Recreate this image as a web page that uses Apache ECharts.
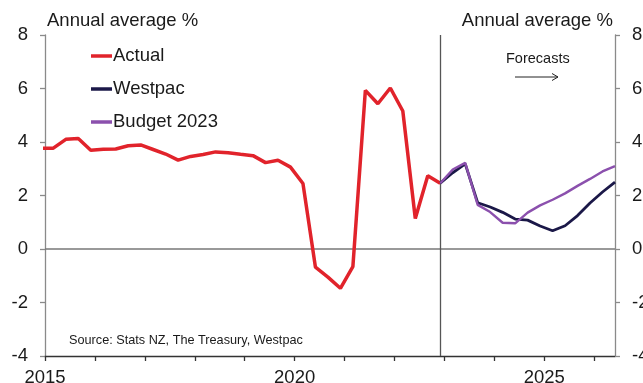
<!DOCTYPE html>
<html><head><meta charset="utf-8">
<script src="https://cdn.jsdelivr.net/npm/echarts@6/dist/echarts.min.js"></script>
<style>html,body{margin:0;padding:0;background:#fff}#c{width:643px;height:383px}</style>
</head><body><div id="c"></div>
<script>
// Quarter labels (year-month) and values, annual average % change
const actualQuarters = ['2014-12','2015-03','2015-06','2015-09','2015-12','2016-03','2016-06','2016-09','2016-12',
  '2017-03','2017-06','2017-09','2017-12','2018-03','2018-06','2018-09','2018-12','2019-03','2019-06','2019-09','2019-12',
  '2020-03','2020-06','2020-09','2020-12','2021-03','2021-06','2021-09','2021-12','2022-03','2022-06','2022-09','2022-12'];
const actualValues = [3.76,3.77,4.10,4.13,3.69,3.73,3.74,3.86,3.89,
  3.72,3.55,3.32,3.46,3.53,3.63,3.60,3.54,3.49,3.23,3.32,3.06,
  2.45,-0.68,-1.05,-1.47,-0.66,5.93,5.43,6.02,5.16,1.14,2.74,2.46];
const forecastQuarters = ['2022-12','2023-03','2023-06','2023-09','2023-12','2024-03','2024-06','2024-09','2024-12',
  '2025-03','2025-06','2025-09','2025-12','2026-03','2026-06'];
const westpacValues = [2.46,2.85,3.18,1.73,1.57,1.37,1.12,1.08,0.86,0.68,0.87,1.25,1.72,2.13,2.50];
const budgetValues  = [2.46,2.97,3.22,1.65,1.38,0.98,0.96,1.36,1.63,1.84,2.08,2.36,2.62,2.90,3.10];
const seriesNames = ['Actual','Westpac','Budget 2023'];
const xTickYears = [2015,2016,2017,2018,2019,2020,2021,2022,2023,2024,2025,2026];
const xLabelYears = [2015,2020,2025];
const yMin = -4, yMax = 8, yStep = 2;
const forecastStart = '2022-12';
const axisEnd = '2026-06';

function toYear(q){const p=q.split('-').map(Number);return p[0]+(p[1]-1)/12;}
function pairs(qs, vs){return qs.map((q,i)=>[toYear(q), vs[i]]);}

const FONT = '"Liberation Sans", Arial, sans-serif';
const TXT = '#1a1a1a';
const chart = echarts.init(document.getElementById('c'), null, {renderer:'canvas'});

function yAxisCfg(pos){
  return {type:'value', position:pos, min:yMin, max:yMax, interval:yStep,
    axisLine:{show:true, lineStyle:{color:'#8a8a8a', width:1.3}},
    axisTick:{show:true, inside:false, length:5, lineStyle:{color:'#8a8a8a', width:1.3}},
    axisLabel:{margin:17, fontSize:18.5, fontFamily:FONT, color:TXT},
    splitLine:{show:false}};
}

chart.setOption({
  animation:false,
  backgroundColor:'#fff',
  grid:{left:45, right:28, top:35, bottom:27, containLabel:false, outerBoundsMode:'none'},
  xAxis:{type:'value', min:2015, max:toYear(axisEnd),
    axisLine:{show:true, onZero:false, lineStyle:{color:'#333', width:1.3}},
    axisTick:{show:true, length:5, customValues:xTickYears, lineStyle:{color:'#333', width:1.3}},
    axisLabel:{customValues:xLabelYears, margin:12.5, fontSize:18.5, fontFamily:FONT, color:TXT,
      formatter:v=>String(Math.round(v))},
    splitLine:{show:false}},
  yAxis:[yAxisCfg('left'), yAxisCfg('right')],
  legend:{orient:'vertical', left:86, top:41, itemWidth:21, itemHeight:3.5, itemGap:13, icon:'rect',
    data:seriesNames,
    textStyle:{fontSize:18.5, fontFamily:FONT, color:TXT, lineHeight:20, padding:[0,0,0,-4]}},
  graphic:[
    {type:'text', left:47, top:11, style:{text:'Annual average %', font:'18.5px '+FONT, fill:TXT}},
    {type:'text', right:30, top:11, style:{text:'Annual average %', font:'18.5px '+FONT, fill:TXT}},
    {type:'text', left:506, top:51, style:{text:'Forecasts', font:'14.5px '+FONT, fill:TXT}},
    {type:'line', shape:{x1:515, y1:77, x2:558, y2:77}, style:{stroke:'#222', lineWidth:1}},
    {type:'polyline', shape:{points:[[552,73.5],[558,77],[552,80.5]]}, style:{stroke:'#222', lineWidth:1, fill:null}},
    {type:'text', left:69, top:334, style:{text:'Source: Stats NZ, The Treasury, Westpac', font:'12.7px '+FONT, fill:TXT}}
  ],
  series:[
    {name:seriesNames[0], type:'line', data:pairs(actualQuarters, actualValues), symbol:'none', z:3,
      color:'#e1232b', lineStyle:{color:'#e1232b', width:3.5},
      markLine:{silent:true, symbol:['none','none'], label:{show:false}, z:1,
        data:[
          {yAxis:0, lineStyle:{color:'#777', width:1.5, type:'solid'}},
          {xAxis:toYear(forecastStart), lineStyle:{color:'#555', width:1.3, type:'solid'}}
        ]}},
    {name:seriesNames[1], type:'line', data:pairs(forecastQuarters, westpacValues), symbol:'none', z:4,
      color:'#1b1848', lineStyle:{color:'#1b1848', width:2.8}},
    {name:seriesNames[2], type:'line', data:pairs(forecastQuarters, budgetValues), symbol:'none', z:5,
      color:'#8b50ad', lineStyle:{color:'#8b50ad', width:2.4}}
  ]
});
</script></body></html>
